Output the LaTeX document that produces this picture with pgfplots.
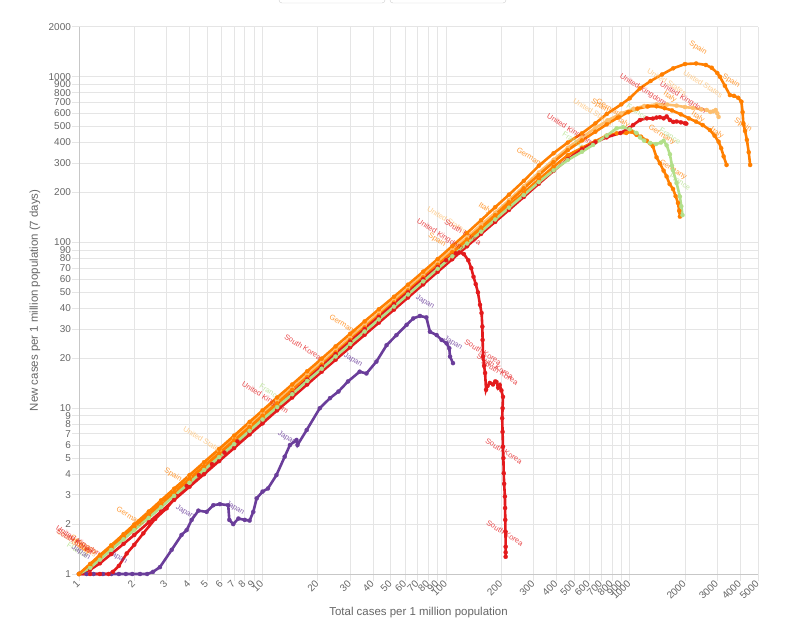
\documentclass[border=0pt]{standalone}
\usepackage{fontspec}
\setmainfont{Liberation Sans}
\usepackage{pgfplots}
\pgfplotsset{compat=1.18}

\definecolor{cOrange}{HTML}{FF7F00}
\definecolor{cLight}{HTML}{FDBF6F}
\definecolor{cRed}{HTML}{E31A1C}
\definecolor{cGreen}{HTML}{B2DF8A}
\definecolor{cPurple}{HTML}{6A3D9A}
\definecolor{txt}{HTML}{666666}
\definecolor{gridc}{HTML}{E5E5E5}

\tikzset{lab/.style={font=\fontsize{7.5}{8}\selectfont, rotate=-32, inner sep=0pt, text opacity=0.8}}

\begin{document}
\begin{tikzpicture}[x=1bp,y=1bp]
\useasboundingbox (0,0) rectangle (800,626);
% buttons at the top edge
\draw[black!20, rounded corners=3] (279,623) rectangle (385,660);
\draw[black!20, rounded corners=3] (390,623) rectangle (506,660);

\begin{axis}[
  at={(79bp,52bp)}, anchor=south west,
  scale only axis, width=679bp, height=547.3bp,
  xmode=log, ymode=log,
  xmin=1, xmax=5000, ymin=1, ymax=2000,
  clip=false,
  axis x line*=bottom, axis y line*=left,
  axis line style={draw=black!22, line width=0.8bp},
  xtick={1,2,3,4,5,6,7,8,9,10,20,30,40,50,60,70,80,90,100,200,300,400,500,600,700,800,900,1000,2000,3000,4000,5000},
  xticklabels={1,2,3,4,5,6,7,8,9,10,20,30,40,50,60,70,80,90,100,200,300,400,500,600,700,800,900,1000,2000,3000,4000,5000},
  ytick={1,2,3,4,5,6,7,8,9,10,20,30,40,50,60,70,80,90,100,200,300,400,500,600,700,800,900,1000,2000},
  yticklabels={1,2,3,4,5,6,7,8,9,10,20,30,40,50,60,70,80,90,100,200,300,400,500,600,700,800,900,1000,2000},
  minor tick num=0,
  grid=major,
  major grid style={draw=gridc, line width=0.8bp},
  tick align=outside, major tick length=7bp,
  tick style={draw=gridc, line width=0.8bp},
  /pgf/number format/assume math mode=true,
  ticklabel style={font=\fontsize{10}{12}\selectfont, text=txt},
  xticklabel style={rotate=45, anchor=east, inner sep=1bp},
  yticklabel style={anchor=east, inner sep=1bp},
  xlabel={Total cases per 1 million population},
  ylabel={New cases per 1 million population (7 days)},
  label style={font=\fontsize{11.5}{13}\selectfont, text=txt},
  xlabel style={at={(axis description cs:0.5,-0.0713)}, anchor=center},
  ylabel style={at={(axis description cs:-0.0648,0.5)}, anchor=center},
  every axis plot/.append style={line width=2.6bp, mark=*, mark size=2.1bp,
    mark options={solid, line width=0.2bp}},
]

% Japan
\addplot[cPurple] coordinates {
(1,1) (1.1,1) (1.2,1) (1.35,1) (1.5,1) (1.65,1) (1.8,1) (1.95,1) (2.15,1) (2.35,1)
(2.53,1.03) (2.76,1.1) (3.2,1.4) (3.62,1.72) (3.86,1.84) (4.11,2.12) (4.47,2.41)
(4.96,2.37) (5.39,2.6) (5.86,2.64) (6.5,2.6) (6.59,2.12) (6.92,2.0) (7.39,2.16)
(8.0,2.12) (8.5,2.1) (8.9,2.37) (9.29,2.86) (10,3.14) (10.7,3.28) (11.9,3.95)
(13.2,5.1) (14.1,6.0) (15.3,6.43) (15.5,6.0) (17.4,7.39) (20.5,10) (23.3,11.5)
(25.9,12.6) (29.2,14.5) (33.8,16.6) (36.8,16.2) (41.7,19.1) (47.4,24) (53.6,27.6)
(60.9,31.8) (66.2,34.8) (72,36) (78,35.3) (81.6,28.9) (88.8,27.6) (94.5,25.8)
(100.6,24.6) (104,23) (105,20.5) (109,18.7)
};

% Germany
\addplot[cOrange] coordinates {
(1,1) (1.15,1.11) (1.3,1.25) (1.5,1.43) (1.75,1.66) (2,1.88) (2.4,2.24) (2.8,2.6)
(3.3,3.03) (4,3.65) (4.8,4.35) (5.8,5.2) (7,6.22) (8.5,7.48) (10,8.75) (12,10.4)
(14.5,12.5) (17.5,14.9) (21,17.8) (25,21) (30,25) (36,29.7) (43,35.2) (52,42.1)
(62,49.8) (75,59.7) (90,71.1) (108,84.7) (130,101) (155,120) (185,142) (220,167)
(265,200) (320,240) (385,286) (460,336) (550,372) (650,408) (748,440) (850,455)
(957,457) (1023,465) (1089,445) (1152,434) (1240,410) (1290,396) (1337,380)
(1400,326) (1460,300) (1530,271) (1588,250) (1650,225) (1722,210) (1780,190)
(1832,173) (1860,155) (1877,143)
};

% United States
\addplot[cLight] coordinates {
(1,1) (1.15,1.14) (1.3,1.29) (1.5,1.49) (1.75,1.73) (2,1.97) (2.4,2.36) (2.8,2.74)
(3.3,3.22) (4,3.87) (4.8,4.61) (5.8,5.52) (7,6.6) (8.5,7.94) (10,9.3) (12,11.1)
(14.5,13.2) (17.5,15.9) (21,18.9) (25,22.3) (30,26.6) (36,31.6) (43,37.4)
(52,44.7) (62,52.8) (75,63.3) (90,75.5) (108,90) (130,107.5) (155,127.5)
(185,151) (220,180) (265,218) (320,264) (385,315) (460,372) (550,430) (650,490)
(760,545) (900,600) (1050,640) (1200,665) (1400,680) (1600,678) (1800,668)
(2000,655) (2210,647) (2450,635) (2630,629) (2750,612) (2850,618) (2940,629)
(3000,600) (3050,571)
};

% Italy
\addplot[cOrange] coordinates {
(1,1) (1.15,1.13) (1.3,1.27) (1.5,1.46) (1.75,1.7) (2,1.93) (2.4,2.3) (2.8,2.66)
(3.3,3.12) (4,3.75) (4.8,4.47) (5.8,5.35) (7,6.4) (8.5,7.7) (10,9.02) (12,10.7)
(14.5,12.9) (17.5,15.4) (21,18.3) (25,21.7) (30,25.8) (36,30.7) (43,36.3)
(52,43.4) (62,51.3) (75,61.5) (90,73.3) (108,87.3) (130,104) (155,123) (185,146)
(220,175) (265,212) (320,255) (385,305) (460,360) (550,412) (650,465) (750,515)
(860,565) (980,610) (1100,640) (1250,660) (1400,662) (1550,645) (1700,625)
(1900,592) (2100,560) (2300,535) (2500,510) (2735,476) (2900,440) (3050,405)
(3150,370) (3250,330) (3370,293)
};

% United Kingdom
\addplot[cRed] coordinates {
(1,1) (1.15,1.06) (1.3,1.16) (1.5,1.32) (1.75,1.52) (2,1.72) (2.4,2.05) (2.8,2.38)
(3.3,2.8) (4,3.36) (4.8,4) (5.8,4.8) (7,5.75) (8.5,6.95) (10,8.1) (12,9.7)
(14.5,11.6) (17.5,13.9) (21,16.6) (25,19.6) (30,23.3) (36,27.7) (43,32.8)
(52,39.3) (62,46.5) (75,55.8) (90,66.5) (108,79.2) (130,94.8) (155,112.5)
(185,133) (220,157) (265,188) (320,226) (385,270) (460,318) (550,365) (650,402)
(748,430) (890,457) (1000,490) (1043,510) (1137,547) (1240,560) (1337,558)
(1400,566) (1460,569) (1530,560) (1590,575) (1656,547) (1726,533) (1800,536)
(1900,530) (2000,523) (2034,520)
};

% South Korea
\addplot[cRed] coordinates {
(1,1) (1.15,1) (1.3,1) (1.45,1) (1.53,1.03) (1.65,1.12) (1.82,1.33) (2,1.5)
(2.24,1.76) (2.6,2.15) (3,2.49) (3.4,2.95) (3.86,3.4) (4.5,3.95) (5.3,4.6)
(6.2,5.4) (7.3,6.3) (8.5,7.2) (10,8.4) (12,10) (14.5,12.3) (17.5,14.9)
(21,17.8) (25,21.2) (30,25.2) (36,30) (43,35.5) (52,42.5) (62,50) (75,60)
(90,71) (100,78) (108,83) (113,86) (118,87) (125,85) (132,78) (137,70) (141,62)
(145,56) (149,50) (153,42) (156,37.5) (157.5,31) (158,25.8) (159,20.5) (161,18)
(163,16.3) (165,12.9) (168,13.6) (173,14.2) (180,13.9) (185,14.5) (188,14.4)
(192,13.3) (196,13.8) (200,12.8) (204,11.7) (203,10) (202,8.7) (203,7.2)
(204,5.86) (205,5) (206,4.05) (207,3.5) (209,2.93) (209.5,2.5) (210,2.12)
(210.5,1.8) (211,1.46) (211,1.35) (211,1.27)
};

% France
\addplot[cGreen] coordinates {
(1,1) (1.15,1.09) (1.3,1.22) (1.5,1.4) (1.75,1.62) (2,1.84) (2.4,2.18) (2.8,2.53)
(3.3,2.96) (4,3.55) (4.8,4.24) (5.8,5.07) (7,6.07) (8.5,7.3) (10,8.55) (12,10.15)
(14.5,12.15) (17.5,14.6) (21,17.3) (25,20.5) (30,24.4) (36,29) (43,34.3)
(52,41) (62,48.5) (75,58.2) (90,69.3) (108,82.5) (130,98.5) (155,116) (185,137.5)
(220,162) (265,193) (320,231) (385,272) (460,314) (550,352) (631,387) (749,440)
(849,488) (920,495) (1000,482) (1089,457) (1137,430) (1200,410) (1290,398)
(1390,392) (1480,400) (1530,410) (1590,385) (1656,340) (1700,290) (1722,272)
(1800,228) (1877,189) (1910,165) (1940,146)
};

% Spain
\addplot[cOrange] coordinates {
(1,1) (1.15,1.15) (1.3,1.3) (1.5,1.49) (1.75,1.74) (2,1.99) (2.4,2.38) (2.8,2.78)
(3.3,3.27) (4,3.95) (4.8,4.72) (5.8,5.68) (7,6.83) (8.5,8.27) (10,9.7) (12,11.6)
(14.5,13.9) (17.5,16.7) (21,19.9) (25,23.6) (30,28.1) (36,33.4) (43,39.5) (52,47)
(62,55.6) (75,66.6) (90,79.4) (108,95) (130,114) (155,136) (185,163) (220,194)
(265,235) (320,290) (385,345) (460,400) (550,455) (650,522) (750,595) (900,680)
(1000,740) (1137,850) (1300,940) (1500,1030) (1726,1122) (2000,1190) (2300,1200)
(2600,1175) (2800,1130) (3000,1050) (3100,998) (3300,880) (3515,774) (3700,765)
(3900,745) (4060,706) (4120,610) (4160,522) (4250,470) (4350,415) (4450,350)
(4530,293)
};

% country labels along the curves
\node[lab, text=cOrange] at (axis description cs:0.9116,0.9611) {Spain};
\node[lab, text=cOrange] at (axis description cs:0.9602,0.9008) {Spain};
\node[lab, text=cOrange] at (axis description cs:0.9779,0.8204) {Spain};
\node[lab, text=cLight] at (axis description cs:0.8660,0.8990) {United States};
\node[lab, text=cLight] at (axis description cs:0.9190,0.8953) {United States};
\node[lab, text=cRed] at (axis description cs:0.8306,0.8843) {United Kingdom};
\node[lab, text=cRed] at (axis description cs:0.8895,0.8697) {United Kingdom};
\node[lab, text=cOrange] at (axis description cs:0.8704,0.8716) {Italy};
\node[lab, text=cOrange] at (axis description cs:0.9116,0.8350) {Italy};
\node[lab, text=cOrange] at (axis description cs:0.9396,0.8058) {Italy};
\node[lab, text=cLight] at (axis description cs:0.7570,0.8441) {United States};
\node[lab, text=cOrange] at (axis description cs:0.7673,0.8551) {Spain};
\node[lab, text=cOrange] at (axis description cs:0.7820,0.8490) {Germany};
\node[lab, text=cOrange] at (axis description cs:0.8012,0.8259) {Italy};
\node[lab, text=cGreen] at (axis description cs:0.8218,0.8441) {France};
\node[lab, text=cRed] at (axis description cs:0.7231,0.8113) {United Kingdom};
\node[lab, text=cGreen] at (axis description cs:0.7275,0.7930) {France};
\node[lab, text=cOrange] at (axis description cs:0.8586,0.8021) {Germany};
\node[lab, text=cGreen] at (axis description cs:0.8704,0.8003) {France};
\node[lab, text=cOrange] at (axis description cs:0.8748,0.7382) {Germany};
\node[lab, text=cGreen] at (axis description cs:0.8851,0.7162) {France};
\node[lab, text=cOrange] at (axis description cs:0.6642,0.7601) {Germany};
\node[lab, text=cLight] at (axis description cs:0.5420,0.6468) {United States};
\node[lab, text=cRed] at (axis description cs:0.5655,0.6249) {South Korea};
\node[lab, text=cRed] at (axis description cs:0.5317,0.6194) {United Kingdom};
\node[lab, text=cOrange] at (axis description cs:0.5272,0.6103) {Spain};
\node[lab, text=cOrange] at (axis description cs:0.5979,0.6687) {Italy};
\node[lab, text=cPurple] at (axis description cs:0.5096,0.4970) {Japan};
\node[lab, text=cPurple] at (axis description cs:0.5508,0.4221) {Japan};
\node[lab, text=cRed] at (axis description cs:0.5950,0.4056) {South Korea};
\node[lab, text=cRed] at (axis description cs:0.6127,0.3800) {South Korea};
\node[lab, text=cRed] at (axis description cs:0.6200,0.3691) {South Korea};
\node[lab, text=cRed] at (axis description cs:0.6259,0.2247) {South Korea};
\node[lab, text=cRed] at (axis description cs:0.6274,0.0749) {South Korea};
\node[lab, text=cOrange] at (axis description cs:0.3888,0.4550) {Germany};
\node[lab, text=cRed] at (axis description cs:0.3299,0.4148) {South Korea};
\node[lab, text=cPurple] at (axis description cs:0.4035,0.3910) {Japan};
\node[lab, text=cRed] at (axis description cs:0.2739,0.3216) {United Kingdom};
\node[lab, text=cGreen] at (axis description cs:0.2813,0.3325) {France};
\node[lab, text=cPurple] at (axis description cs:0.3063,0.2485) {Japan};
\node[lab, text=cLight] at (axis description cs:0.1826,0.2448) {United States};
\node[lab, text=cOrange] at (axis description cs:0.1384,0.1809) {Spain};
\node[lab, text=cPurple] at (axis description cs:0.1561,0.1133) {Japan};
\node[lab, text=cPurple] at (axis description cs:0.2297,0.1206) {Japan};
\node[lab, text=cOrange] at (axis description cs:0.0751,0.1041) {Germany};
\node[lab, text=cPurple] at (axis description cs:0.0574,0.0311) {Japan};
% crowded start
\node[lab, text=cLight] at (axis description cs:-0.0030,0.0560) {United States};
\node[lab, text=cOrange] at (axis description cs:0.0020,0.0500) {Spain};
\node[lab, text=cOrange] at (axis description cs:0.0080,0.0460) {Italy};
\node[lab, text=cGreen] at (axis description cs:-0.0020,0.0430) {France};
\node[lab, text=cOrange] at (axis description cs:0.0070,0.0530) {Germany};
\node[lab, text=cRed] at (axis description cs:-0.0060,0.0600) {South Korea};
\node[lab, text=cRed] at (axis description cs:0.0000,0.0580) {United Kingdom};
\node[lab, text=cPurple] at (axis description cs:0.0030,0.0390) {Japan};

\end{axis}
\end{tikzpicture}
\end{document}
